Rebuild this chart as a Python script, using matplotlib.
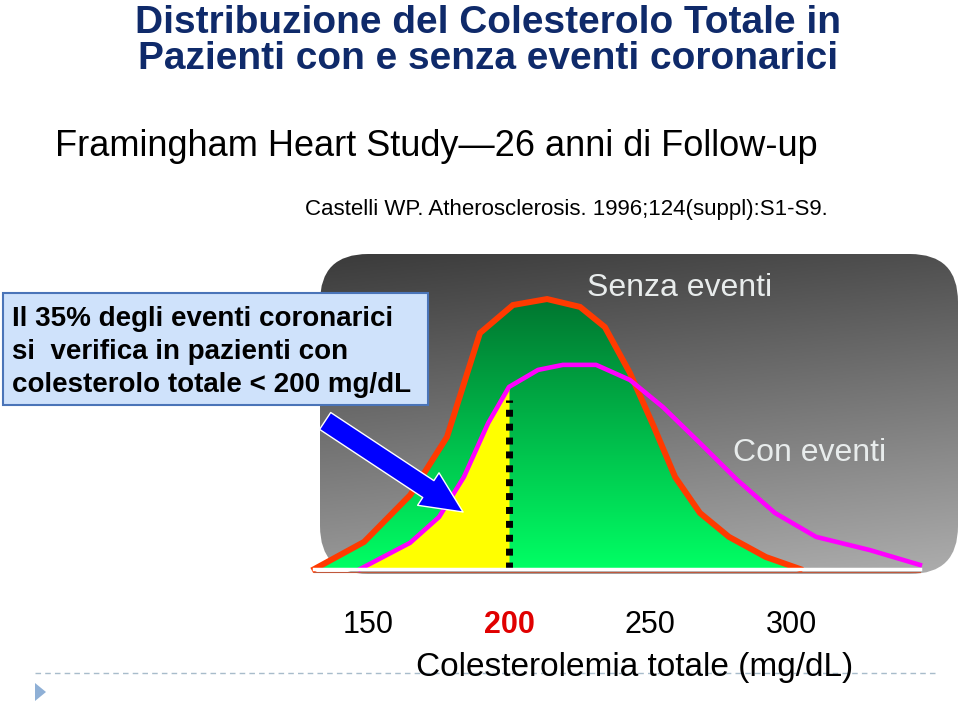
import numpy as np
import matplotlib
matplotlib.use('Agg')
import matplotlib.pyplot as plt
from matplotlib.patches import FancyBboxPatch, Rectangle, Polygon, FancyArrowPatch

plt.rcParams['font.family'] = ['Liberation Sans', 'DejaVu Sans']

# Distribuzione (frequenza relativa, unita' arbitrarie)
chol_senza = [131.0, 148.6, 165.0, 178.0, 189.7, 201.4, 213.5, 225.2, 234.0,
              242.9, 251.4, 258.9, 267.7, 278.0, 291.1, 303.2]
freq_senza = [0.0, 8.6, 23.5, 41.9, 74.9, 83.8, 85.7, 83.2, 76.8,
              62.2, 45.1, 29.2, 17.8, 10.2, 3.8, 0.0]

chol_con = [147.2, 164.9, 175.2, 184.0, 192.6, 200.0, 210.3, 219.1, 230.9,
            242.9, 254.6, 267.7, 280.9, 294.3, 308.9, 328.0, 345.7]
freq_con = [0.0, 8.3, 16.5, 29.2, 46.3, 57.8, 63.2, 64.8, 64.8,
            60.0, 51.4, 40.0, 28.3, 17.8, 10.2, 6.0, 1.3]

soglia = 200
tick_values = [150, 200, 250, 300]
tick_labels = ['150', '200', '250', '300']

title_lines = ['Distribuzione del Colesterolo Totale in',
               'Pazienti con e senza eventi coronarici']
subtitle = 'Framingham Heart Study\u201426 anni di Follow-up'
citation = 'Castelli WP. Atherosclerosis. 1996;124(suppl):S1-S9.'
box_lines = ['Il 35% degli eventi coronarici',
             'si  verifica in pazienti con',
             'colesterolo totale < 200 mg/dL']

W, H = 960, 705


def fig_rect(left, top, right, bottom):
    """Pixel box -> figure fraction [l, b, w, h]."""
    return [left / W, 1 - bottom / H, (right - left) / W, (bottom - top) / H]


def main():
    fig = plt.figure(figsize=(9.6, 7.05), dpi=100)

    # background layer in pixel units (slide decorations)
    bg = fig.add_axes([0, 0, 1, 1], zorder=0)
    bg.set_xlim(0, W)
    bg.set_ylim(H, 0)
    bg.axis('off')

    # gray rounded panel with gradient
    panel = FancyBboxPatch((320, 254), 638, 320, boxstyle='round,pad=0,rounding_size=48',
                           fc='none', ec='none')
    bg.add_patch(panel)
    u = np.linspace(0, 1, 200)
    v = np.linspace(0, 1, 200)
    U, V = np.meshgrid(u, v)
    g = 0.23 + 0.37 * V + 0.08 * U
    img = np.dstack([g, g, g])
    im = bg.imshow(img, extent=(320, 958, 574, 254), origin='upper', aspect='auto', zorder=1)
    im.set_clip_path(panel)
    bg.set_xlim(0, W)
    bg.set_ylim(H, 0)

    # titles
    navy = '#0f2a6a'
    bg.text(488, 33, title_lines[0], ha='center', va='baseline', fontsize=28,
            fontweight='bold', color=navy)
    bg.text(488, 69, title_lines[1], ha='center', va='baseline', fontsize=28,
            fontweight='bold', color=navy)
    bg.text(55, 156, subtitle, ha='left', va='baseline', fontsize=26, color='black')
    bg.text(305, 215, citation, ha='left', va='baseline', fontsize=16, color='black')

    # annotation box
    bg.add_patch(Rectangle((3, 293), 425, 112, fc='#cfe2fb', ec='#4a74b8', lw=1.5, zorder=3))
    for i, line in enumerate(box_lines):
        bg.text(12, 326 + 33 * i, line, ha='left', va='baseline', fontsize=20,
                fontweight='bold', color='black', zorder=4)

    # footer decorations
    bg.axhline(673, xmin=35 / W, xmax=935 / W, color='#a8bccb', lw=1, ls=(0, (4, 3)))
    bg.add_patch(Polygon([[35, 683], [35, 701], [46, 692]], closed=True,
                         fc='#8fb0d6', ec='none'))

    # chart axes
    ax = fig.add_axes(fig_rect(310, 250, 960, 575), zorder=2)
    ax.set_xlim(129.43, 359.93)
    ax.set_ylim(-1.905, 101.27)
    ax.patch.set_visible(False)
    for s in ax.spines.values():
        s.set_visible(False)
    ax.set_yticks([])

    # green gradient under the "senza eventi" curve
    area = ax.fill_between(chol_senza, 0, freq_senza, facecolor='none', edgecolor='none')
    top = max(freq_senza)
    t = np.linspace(0, 1, 256)[:, None]
    bottom_c = np.array([0, 255, 100]) / 255
    top_c = np.array([0, 118, 48]) / 255
    grad = (bottom_c * (1 - t) + top_c * t)[:, None, :]
    gim = ax.imshow(grad, extent=(min(chol_senza), max(chol_senza), 0, top), origin='lower',
                    aspect='auto', zorder=2)
    gim.set_clip_path(area.get_paths()[0], transform=ax.transData)
    ax.set_xlim(129.43, 359.93)
    ax.set_ylim(-1.905, 101.27)

    # yellow region: events with cholesterol < 200
    x_low = [x for x in chol_con if x <= soglia]
    y_low = freq_con[:len(x_low)]
    ax.fill_between(x_low, 0, y_low, color='#ffff00', lw=0, zorder=3)

    ax.vlines(soglia, 0, y_low[-1] * 0.93, colors='black', lw=5,
              linestyles=(0, (1, 1)), zorder=4)

    ax.plot(chol_senza, freq_senza, color='#ff3a00', lw=4.3, solid_joinstyle='miter', zorder=5)
    ax.plot(chol_con, freq_con, color='#ff00ff', lw=3.3, zorder=6)

    # baseline
    ax.axhline(0, xmin=4 / 650, xmax=610 / 650, color='white', lw=2.5, zorder=7, clip_on=False)
    ax.axhline(-1.0, xmin=4 / 650, xmax=610 / 650, color='#c0583c', lw=0.8, zorder=6,
               clip_on=False)

    # arrow
    arrow = FancyArrowPatch((134.8, 47.0), (183.7, 18.1),
                            arrowstyle='simple,head_length=1.07,head_width=1.0,tail_width=0.52',
                            mutation_scale=28, fc='#0000ff', ec='white', lw=1,
                            shrinkA=0, shrinkB=0, zorder=8, clip_on=False)
    ax.add_patch(arrow)

    # curve labels
    ax.text(260.6, (569 - 296) / 3.15, 'Senza eventi', ha='center', va='baseline',
            fontsize=23, color='#e8ecec', zorder=9)
    ax.text(306.7, (569 - 461) / 3.15, 'Con eventi', ha='center', va='baseline',
            fontsize=23, color='#e8ecec', zorder=9)

    # ticks and axis label
    ax.set_xticks(tick_values)
    ax.set_xticklabels(tick_labels, fontsize=22)
    ax.tick_params(axis='x', length=0, pad=25)
    lbl = ax.get_xticklabels()[1]
    lbl.set_color('#e00000')
    lbl.set_fontweight('bold')
    ax.set_xlabel('Colesterolemia totale (mg/dL)', fontsize=24, labelpad=8.5)

    fig.savefig('out.png', dpi=100)
    plt.close(fig)


if __name__ == '__main__':
    main()
